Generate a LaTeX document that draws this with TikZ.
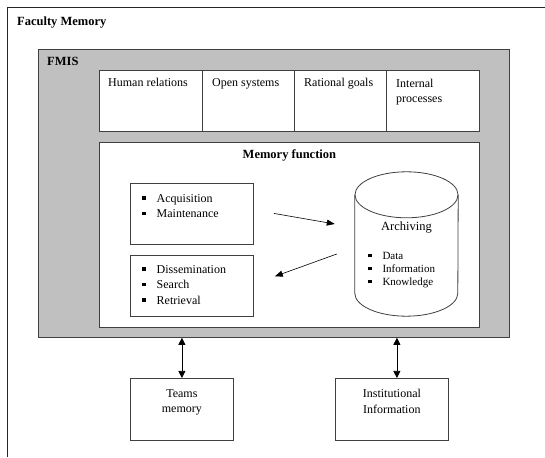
\documentclass[tikz,border=0pt]{standalone}
\usepackage{fontspec}
\setmainfont{Liberation Serif}
\usetikzlibrary{arrows.meta,calc}
\definecolor{fmisgray}{HTML}{C0C0C0}
\definecolor{edgegray}{HTML}{404040}
\newcommand{\sqbul}{\rule[2.4pt]{3.5pt}{3.5pt}\hspace{11pt}}

\begin{document}
\begin{tikzpicture}[x=1pt, y=1pt,
    every node/.style={font=\fontsize{12}{15.5}\selectfont, inner sep=0pt},
    box/.style={draw=edgegray, line width=0.8pt, fill=white, rectangle, anchor=north west},
    title/.style={font=\fontsize{12.5}{15}\selectfont\bfseries},
    arr/.style={-{Triangle[length=8pt,width=6pt]}, line width=0.6pt},
    dblarr/.style={{Triangle[length=7pt,width=7pt]}-{Triangle[length=7pt,width=7pt]}, line width=0.7pt}]
    \useasboundingbox (0,0) rectangle (545,457);
    \fill[white] (0,0) rectangle (545,457);

    % Faculty Memory frame (runs off the page)
    \draw[line width=1pt, black!85] (545,449) -- (7,449) -- (7,0);
    \node[title, anchor=base west] (fm) at (17,431) {Faculty Memory};

    % FMIS layer
    \node[box, fill=fmisgray, minimum width=471, minimum height=288] (fmis) at (38,408) {};
    \node[title, anchor=base west] (fmislbl) at (47,391) {FMIS};

    % Top row
    \node[box, minimum width=103, minimum height=61] (hr) at (99,387) {};
    \node[box, minimum width=92, minimum height=61] (os) at (202,387) {};
    \node[box, minimum width=92, minimum height=61] (rg) at (294,387) {};
    \node[box, minimum width=93, minimum height=61] (ip) at (386,387) {};
    \node[anchor=base west] (hrtxt) at ($(hr.north west)+(9,-17)$) {Human relations};
    \node[anchor=base west] (ostxt) at ($(os.north west)+(10,-17)$) {Open systems};
    \node[anchor=base west] (rgtxt) at ($(rg.north west)+(10,-17)$) {Rational goals};
    \node[anchor=north west, align=left] (iptxt) at ($(ip.north west)+(10,-8.8)$) {Internal\\processes};

    % Memory function
    \node[box, minimum width=380, minimum height=185] (mf) at (99,315) {};
    \node[title, anchor=base] (mftitle) at ($(mf.north)+(0,-17)$) {Memory function};

    \node[box, minimum width=123, minimum height=61] (acq) at (130,274) {};
    \node[box, minimum width=123, minimum height=61] (diss) at (130,202) {};
    \node[anchor=north west, align=left] (acqtxt) at ($(acq.north west)+(12,-11)$)
        {\sqbul Acquisition\\\sqbul Maintenance};
    \node[anchor=north west, align=left] (disstxt) at ($(diss.north west)+(12,-10)$)
        {\sqbul Dissemination\\\sqbul Search\\\sqbul Retrieval};

    % Archiving cylinder
    \node[minimum width=103, minimum height=144] (arch) at (406.5,213) {};
    \draw[edgegray, line width=0.8pt] ($(arch.north west)+(0,-23)$) -- ($(arch.south west)+(0,23)$)
        arc[start angle=180, end angle=360, x radius=51.5, y radius=23] -- ($(arch.north east)+(0,-23)$);
    \draw[edgegray, line width=0.8pt] ($(arch.north)+(0,-23)$) ellipse [x radius=51.5, y radius=23];
    \node[anchor=base, font=\fontsize{12.5}{15}\selectfont] (archlbl) at ($(arch.north)+(0,-59)$) {Archiving};
    \node[anchor=north west, align=left, font=\fontsize{11}{13}\selectfont] (archtxt) at ($(arch.north west)+(13,-80.5)$)
        {\sqbul Data\\\sqbul Information\\\sqbul Knowledge};

    % Arrows
    \coordinate (a1s) at ($(acq.east)+(20,0.5)$);
    \coordinate (a1e) at ($(arch.west)+(-20,20)$);
    \coordinate (a2s) at ($(arch.west)+(-18,-10)$);
    \coordinate (a2e) at ($(diss.east)+(21,9.5)$);
    \draw[arr] (a1s) -- (a1e);
    \draw[arr] (a2s) -- (a2e);

    % Outside sources
    \node[box, minimum width=103, minimum height=62] (teams) at (130,79) {};
    \node[box, minimum width=113, minimum height=62] (inst) at (335,79) {};
    \node[anchor=north, align=center] (teamstxt) at ($(teams.north)+(0,-11)$) {Teams\\memory};
    \node[anchor=north, align=center] (insttxt) at ($(inst.north)+(0,-11)$) {Institutional\\Information};

    \draw[dblarr] (teams.north) -- (teams.north |- fmis.south);
    \draw[dblarr] ([xshift=5pt]inst.north) -- ([xshift=5pt]inst.north |- fmis.south);
\end{tikzpicture}
\end{document}
